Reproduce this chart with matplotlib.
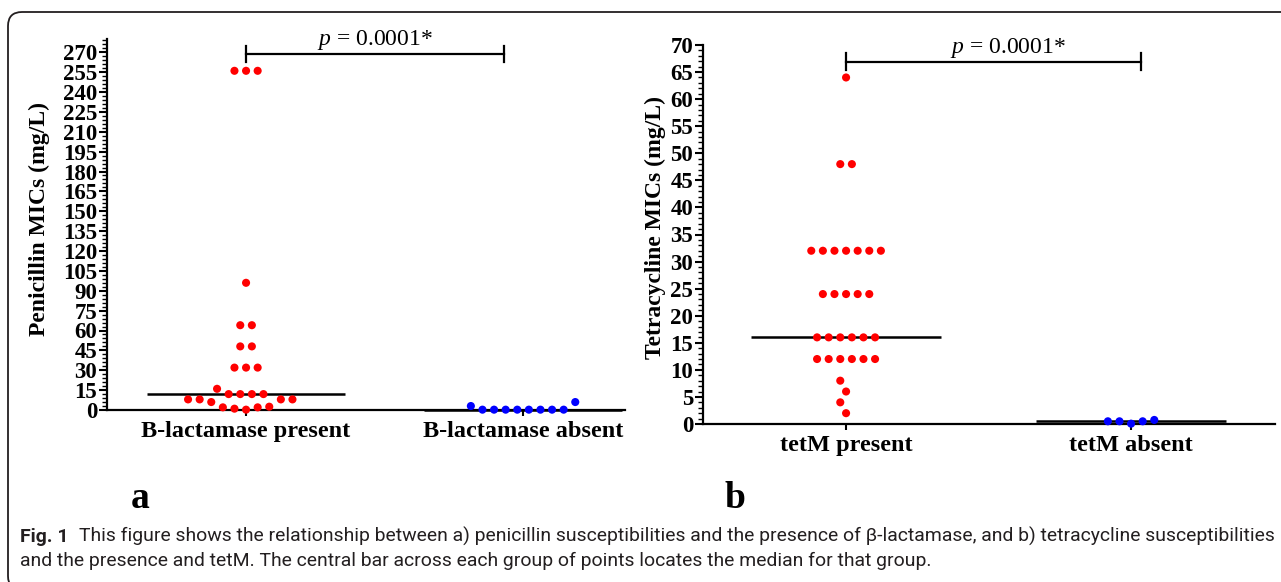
import numpy as np
import matplotlib
matplotlib.use("Agg")
import matplotlib.pyplot as plt
from matplotlib.patches import FancyBboxPatch
from matplotlib.ticker import MultipleLocator, FixedLocator
from matplotlib.transforms import IdentityTransform

# ---------------- data ----------------
pen_categories = ["B-lactamase present", "B-lactamase absent"]
pen_present = [256, 256, 256, 96, 64, 64, 48, 48, 32, 32, 32, 16,
               12, 12, 12, 12, 8, 8, 8, 8, 6, 2.5, 2, 2, 1, 0.25]
pen_absent = [6, 3, 0.25, 0.25, 0.25, 0.25, 0.25, 0.25, 0.25, 0.25]
pen_yticks = list(range(0, 271, 15))
pen_p = 0.0001

tet_categories = ["tetM present", "tetM absent"]
tet_present = [64, 48, 48, 32, 32, 32, 32, 32, 32, 32, 24, 24, 24, 24, 24,
               16, 16, 16, 16, 16, 16, 12, 12, 12, 12, 12, 12, 8, 6, 4, 2]
tet_absent = [0.75, 0.5, 0.5, 0.5, 0.0625]
tet_yticks = list(range(0, 71, 5))
tet_p = 0.0001

caption_bold = "Fig. 1"
caption_line1 = ("This figure shows the relationship between a) penicillin susceptibilities "
                 "and the presence of \u03b2-lactamase, and b) tetracycline susceptibilities")
caption_line2 = ("and the presence and tetM. The central bar across each group of points "
                 "locates the median for that group.")

# ---------------- style ----------------
W, H, DPI = 1281, 582, 100
SERIF = ["Liberation Serif", "DejaVu Serif"]
SANS = ["Roboto", "DejaVu Sans"]
RED, BLUE = "#ff0000", "#0000ff"

plt.rcParams["mathtext.fontset"] = "custom"
plt.rcParams["mathtext.it"] = "Liberation Serif:italic"
plt.rcParams["mathtext.rm"] = "Liberation Serif"

fig = plt.figure(figsize=(W / DPI, H / DPI), dpi=DPI)


def px_rect(x0, y_top, x1, y_bot):
    return [x0 / W, 1 - y_bot / H, (x1 - x0) / W, (y_bot - y_top) / H]


def swarm_x(ax, values, xc, step_px=11.6, thresh_px=11.0):
    vals = np.asarray(values, float)
    ypx = ax.transData.transform(np.column_stack([np.full(len(vals), xc), vals]))[:, 1]
    x0px = ax.transData.transform((xc, 0))[0]
    xpx_per_unit = ax.transData.transform((xc + 1, 0))[0] - x0px
    xs = np.zeros(len(vals))
    placed = []
    grid = np.arange(-40, 41) * 0.5
    for v in sorted(set(vals)):
        idx = [i for i in range(len(vals)) if vals[i] == v]
        n = len(idx)
        ideals = [(k - (n - 1) / 2) for k in range(n)]
        ideals = sorted(ideals, key=lambda o: (abs(o), o))
        for i, o in zip(idx, ideals):
            out = 1 if o > 0 else -1
            cands = sorted(grid, key=lambda c: (abs(c - o), -np.sign(c - o) * out))
            for c in cands:
                cx = x0px + c * step_px
                ok = all(np.hypot(cx - px, ypx[i] - py) >= thresh_px for px, py in placed)
                if ok:
                    placed.append((cx, ypx[i]))
                    xs[i] = xc + c * step_px / xpx_per_unit
                    break
    return xs


def panel(rect, groups, cats, ylim, yticks, minor, ylabel, ylabel_xy,
          xlim, med_half, bracket_x, bracket_y, ptext_x, pval, letter, letter_xy):
    ax = fig.add_axes(rect)
    ax.set_xlim(*xlim)
    ax.set_ylim(*ylim)
    for s in ("top", "right"):
        ax.spines[s].set_visible(False)
    for s in ("left", "bottom"):
        ax.spines[s].set_linewidth(1.6)
    ax.yaxis.set_major_locator(FixedLocator(yticks))
    ax.yaxis.set_minor_locator(MultipleLocator(minor))
    ax.tick_params(axis="y", which="major", length=6, width=1.5, pad=1)
    ax.tick_params(axis="y", which="minor", length=3.5, width=1.0)
    ax.set_xticks(range(len(cats)))
    ax.set_xticklabels(cats)
    ax.tick_params(axis="x", length=4, width=1.5, pad=4)
    for lab in ax.get_yticklabels():
        lab.set_fontfamily(SERIF)
        lab.set_fontweight("bold")
        lab.set_fontsize(16.5)
    for lab in ax.get_xticklabels():
        lab.set_fontfamily(SERIF)
        lab.set_fontweight("bold")
        lab.set_fontsize(17.5)
    colors = [RED, BLUE]
    for k, vals in enumerate(groups):
        xs = swarm_x(ax, vals, k)
        ax.scatter(xs, vals, s=34, color=colors[k], edgecolors="none",
                   zorder=5, clip_on=False)
        med = float(np.median(vals))
        ax.plot([k - med_half, k + med_half], [med, med], color="black",
                lw=1.8, zorder=4, solid_capstyle="butt", clip_on=False)
    # significance bracket
    bx0, bx1 = bracket_x
    ax.plot([bx0, bx1], [bracket_y, bracket_y], color="black", lw=1.6, clip_on=False)
    tick_h = (ylim[1] - ylim[0]) * 0.022
    for bx in (bx0, bx1):
        ax.plot([bx, bx], [bracket_y - tick_h, bracket_y + tick_h], color="black",
                lw=1.6, clip_on=False)
    ax.annotate(r"$\it{p}$" + " = {:.4f}*".format(pval), xy=(ptext_x, bracket_y),
                xytext=(0, 9), textcoords="offset pixels", ha="center", va="baseline",
                fontsize=17, family=SERIF, annotation_clip=False)
    fig.text(ylabel_xy[0] / W, 1 - ylabel_xy[1] / H, ylabel, rotation=90,
             ha="center", va="center", fontsize=17, fontweight="bold", family=SERIF)
    fig.text(letter_xy[0] / W, 1 - letter_xy[1] / H, letter, ha="center",
             va="baseline", fontsize=27, fontweight="bold", family=SERIF)
    return ax


panel(px_rect(107, 39, 625, 410), [pen_present, pen_absent], pen_categories,
      (0, 280), pen_yticks, 3, "Penicillin MICs (mg/L)", (39, 219),
      (-0.502, 1.368), 0.357, (0, 0.93), 268.5, 0.466, pen_p, "a", (140, 508))

panel(px_rect(703, 45, 1275, 424), [tet_present, tet_absent], tet_categories,
      (0, 70), tet_yticks, 1, "Tetracycline MICs (mg/L)", (655, 228),
      (-0.502, 1.505), 0.332, (0, 1.035), 66.9, 0.568, tet_p, "b", (735, 508))

# rounded frame
frame = FancyBboxPatch((8, -8), 1320, 582 - 12 + 8,
                       boxstyle="round,pad=0,rounding_size=14",
                       transform=IdentityTransform(), fill=False,
                       edgecolor="#231f20", linewidth=1.3)
fig.add_artist(frame)

# caption (font size fitted so both lines fit their measured widths)
cap_color = "#231f20"
base = 13.0
renderer = fig.canvas.get_renderer()
t2 = fig.text(20 / W, 1 - 566 / H, caption_line2, ha="left", va="baseline",
              fontsize=base, family=SANS, color=cap_color)
tb = fig.text(20 / W, 1 - 542 / H, caption_bold, ha="left", va="baseline",
              fontsize=base, fontweight="bold", family=SANS, color=cap_color)
t1 = fig.text(0, 1 - 542 / H, caption_line1, ha="left", va="baseline",
              fontsize=base, family=SANS, color=cap_color)
w2 = t2.get_window_extent(renderer).width
wb = tb.get_window_extent(renderer).width
w1 = t1.get_window_extent(renderer).width
gap = 10
scale = min((944 - 20) / w2, (1277 - 20 - gap) / (wb + w1))
size = base * scale
for t in (t1, t2, tb):
    t.set_fontsize(size)
t1.set_x((20 + wb * scale + gap) / W)

fig.savefig("out.png", dpi=DPI)
